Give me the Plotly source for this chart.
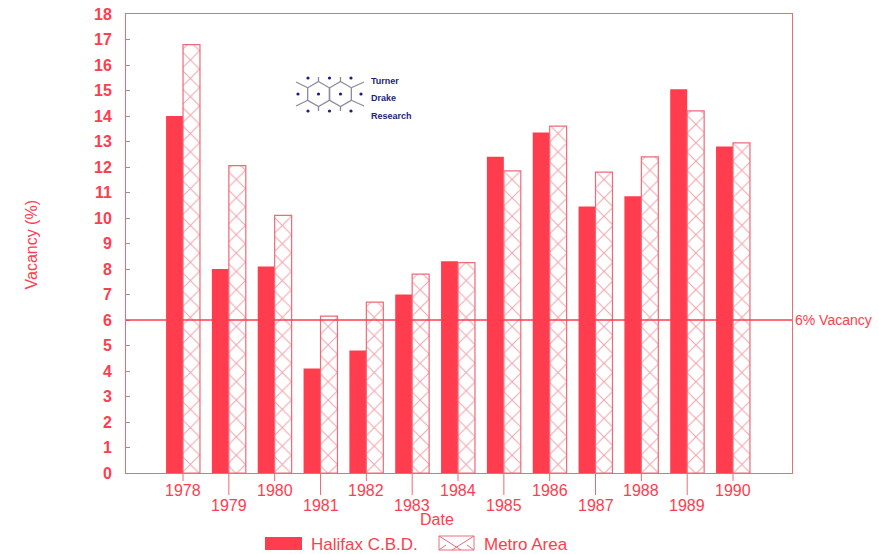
import math
import plotly.graph_objects as go

# Office vacancy rates, Halifax C.B.D. vs Metro Area
years = [1978, 1979, 1980, 1981, 1982, 1983, 1984, 1985, 1986, 1987, 1988, 1989, 1990]
halifax_cbd = [14.0, 8.0, 8.1, 4.1, 4.8, 7.0, 8.3, 12.4, 13.35, 10.45, 10.85, 15.05, 12.8]
metro_area = [16.8, 12.05, 10.1, 6.15, 6.7, 7.8, 8.25, 11.85, 13.6, 11.8, 12.4, 14.2, 12.95]
y_ticks = list(range(0, 19))
benchmark = 6
benchmark_label = "6% Vacancy"

RED = "#ff3d4e"
LINE = "#ee6a78"
HATCH = "#e84a5a"
NAVY = "#1d1f78"
FONT = "Liberation Sans, Arial, sans-serif"

W, H = 879, 554
PL, PR, PT, PB = 126, 792, 14, 473


def px(x):
    return (x - PL) / (PR - PL)


def py(y):
    return (PB - y) / (PB - PT)


fig = go.Figure()
fig.add_trace(go.Bar(
    x=years, y=halifax_cbd, name="Halifax C.B.D.",
    marker=dict(color=RED, line=dict(width=0)),
))
fig.add_trace(go.Bar(
    x=years, y=metro_area, name="Metro Area",
    marker=dict(color="white", line=dict(color=LINE, width=1.2),
                pattern=dict(shape="x", fgcolor=HATCH, bgcolor="white",
                             size=13, solidity=0.16)),
))

shapes = []
annotations = []

# staggered year labels with short/long ticks
for i, yr in enumerate(years):
    low = i % 2 == 1
    shapes.append(dict(type="line", xref="x", yref="paper", x0=yr, x1=yr,
                       y0=0, y1=-(22 if low else 8) / (PB - PT),
                       line=dict(color=LINE, width=1)))
    annotations.append(dict(x=yr, xref="x", y=py(505 if low else 490), yref="paper",
                            text=str(yr), showarrow=False, yanchor="middle",
                            font=dict(family=FONT, size=16, color=RED)))

# benchmark line
shapes.append(dict(type="line", xref="paper", yref="y", x0=0, x1=1,
                   y0=benchmark, y1=benchmark, line=dict(color=RED, width=1.3)))
annotations.append(dict(x=1.002, xref="paper", y=benchmark, yref="y", text=benchmark_label,
                        showarrow=False, xanchor="left", yanchor="middle",
                        font=dict(family=FONT, size=14, color=RED)))

# axis titles
annotations.append(dict(x=px(20), xref="paper", y=py(245), yref="paper",
                        text="Vacancy (%)", textangle=-90, showarrow=False,
                        font=dict(family=FONT, size=16, color=RED)))
annotations.append(dict(x=px(437), xref="paper", y=py(519), yref="paper",
                        text="Date", showarrow=False, yanchor="middle",
                        font=dict(family=FONT, size=16, color=RED)))

# legend
shapes.append(dict(type="rect", xref="paper", yref="paper",
                   x0=px(265), x1=px(302), y0=py(537), y1=py(550),
                   fillcolor=RED, line=dict(width=0)))
annotations.append(dict(x=px(309), xref="paper", y=py(544), yref="paper",
                        text="Halifax C.B.D.", showarrow=False, xanchor="left",
                        yanchor="middle", font=dict(family=FONT, size=17, color=RED)))
shapes.append(dict(type="rect", xref="paper", yref="paper",
                   x0=px(439), x1=px(474), y0=py(536), y1=py(550),
                   fillcolor="white", line=dict(color=LINE, width=1)))
for (ax, ay, bx, by) in [(439, 536, 461, 550), (452, 550, 474, 536),
                         (439, 550, 446, 545), (467, 545, 474, 550)]:
    shapes.append(dict(type="line", xref="paper", yref="paper",
                       x0=px(ax), y0=py(ay), x1=px(bx), y1=py(by),
                       line=dict(color=LINE, width=1)))
annotations.append(dict(x=px(482), xref="paper", y=py(544), yref="paper",
                        text="Metro Area", showarrow=False, xanchor="left",
                        yanchor="middle", font=dict(family=FONT, size=17, color=RED)))

# Turner Drake Research logo
for j, word in enumerate(["Turner", "Drake", "Research"]):
    annotations.append(dict(x=px(369), xref="paper", y=py(81 + 17.5 * j), yref="paper",
                            text="<b>" + word + "</b>", showarrow=False, xanchor="left",
                            yanchor="middle", font=dict(family=FONT, size=9, color=NAVY)))

r = 12.5
hw = r * math.cos(math.pi / 6)
for cx in (318.5, 340.5):
    cy = 94
    pts = [(cx, cy - r), (cx + hw, cy - r / 2), (cx + hw, cy + r / 2),
           (cx, cy + r), (cx - hw, cy + r / 2), (cx - hw, cy - r / 2)]
    path = "M " + " L ".join(f"{px(a):.5f},{py(b):.5f}" for a, b in pts) + " Z"
    shapes.append(dict(type="path", xref="paper", yref="paper", path=path,
                       line=dict(color="#8a8a9a", width=1.3)))
for (ax, ay, bx, by) in [(318.5 - hw, 87.75, 296, 82), (318.5 - hw, 100.25, 296, 106),
                         (340.5 + hw, 87.75, 364, 82), (340.5 + hw, 100.25, 364, 106),
                         (318.5, 81.5, 318.5, 77), (340.5, 81.5, 340.5, 77),
                         (318.5, 106.5, 318.5, 111), (340.5, 106.5, 340.5, 111)]:
    shapes.append(dict(type="line", xref="paper", yref="paper",
                       x0=px(ax), y0=py(ay), x1=px(bx), y1=py(by),
                       line=dict(color="#8a8a9a", width=1.3)))
for (dx, dy) in [(308, 78), (329.5, 78), (351, 78), (298, 94), (318.5, 94), (340.5, 94),
                 (361, 94), (308, 111), (329.5, 111), (351, 111)]:
    shapes.append(dict(type="circle", xref="paper", yref="paper",
                       x0=px(dx - 1.6), x1=px(dx + 1.6), y0=py(dy + 1.6), y1=py(dy - 1.6),
                       fillcolor=NAVY, line=dict(width=0)))

fig.update_layout(
    width=W, height=H, autosize=False,
    margin=dict(l=PL, r=W - PR, t=PT, b=H - PB, pad=0),
    paper_bgcolor="white", plot_bgcolor="white",
    barmode="group", bargap=0.26, bargroupgap=0,
    showlegend=False,
    shapes=shapes, annotations=annotations,
    font=dict(family=FONT, color=RED),
)
fig.update_xaxes(range=[1976.756, 1991.287], showgrid=False, zeroline=False,
                 showticklabels=False, ticks="", showline=True, mirror=True,
                 linecolor=LINE, linewidth=1, automargin=False)
fig.update_yaxes(range=[0, 18], tickvals=y_ticks, ticktext=[f"<b>{v}</b>" for v in y_ticks],
                 showgrid=False, zeroline=False, ticks="inside", ticklen=4,
                 tickcolor="#b08890", ticklabelstandoff=10,
                 tickfont=dict(family=FONT, size=16, color=RED),
                 showline=True, mirror=True, linecolor=LINE, linewidth=1,
                 automargin=False)

fig.write_html("out.html")
